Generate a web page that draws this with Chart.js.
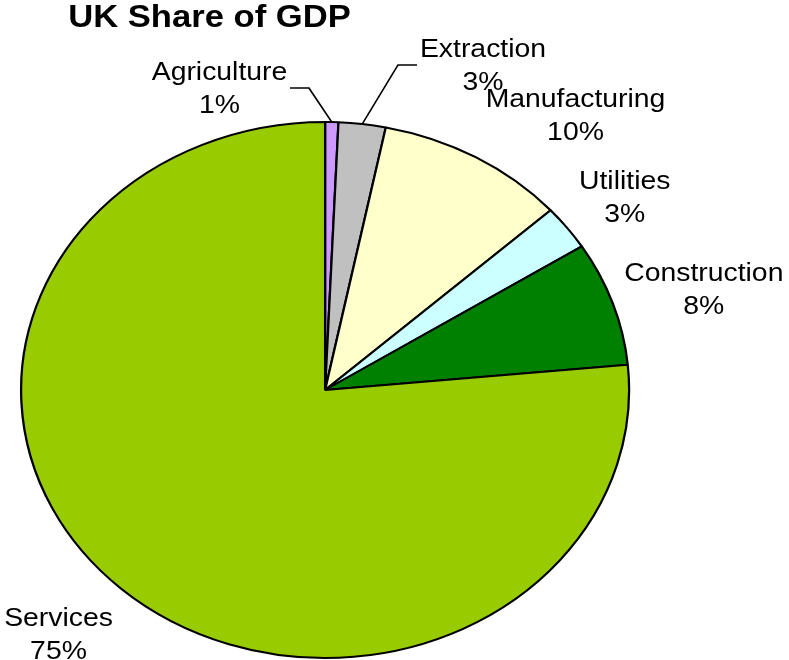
<!DOCTYPE html>
<html>
<head>
<meta charset="utf-8">
<title>UK Share of GDP</title>
<script src="https://cdn.jsdelivr.net/npm/chart.js@4/dist/chart.umd.min.js"></script>
<style>
    html, body { margin: 0; padding: 0; background: #fff; }
    #wrap { width: 789px; height: 660px; position: relative; }
</style>
</head>
<body>
<div id="wrap"><canvas id="gdp-chart"></canvas></div>
<script>
const sectors = ['Agriculture', 'Extraction', 'Manufacturing', 'Utilities', 'Construction', 'Services'];
const shares = [0.7, 2.5, 10.1, 2.7, 7.5, 76.5];
// percentages as printed on the original chart
const pctLabels = ['1%', '3%', '10%', '3%', '8%', '75%'];
const sliceColors = ['#CC99FF', '#C0C0C0', '#FFFFCC', '#CCFFFF', '#008000', '#99CC00'];

// the original picture is stretched sideways, so everything is drawn squeezed then scaled back out
const SX = 304 / 268;
const FONT = '"Liberation Sans", Arial, sans-serif';

// label placement in page pixels: text centre, first baseline, leader elbow / end where there is one
const labelPos = [
    { x: 219.5, y: 80, elbow: [309, 88], end: [290, 88] },
    { x: 483, y: 57, elbow: [398, 65], end: [417, 65] },
    { x: 575.5, y: 107 },
    { x: 624.7, y: 188.5 },
    { x: 703.8, y: 281 },
    { x: 58.5, y: 626 },
];

const stretch = {
    id: 'stretch',
    beforeDraw(chart) {
        chart.ctx.save();
        chart.ctx.scale(SX, 1);
    },
    afterDraw(chart) {
        const ctx = chart.ctx;
        const meta = chart.getDatasetMeta(0);
        ctx.fillStyle = '#000';
        ctx.strokeStyle = '#000';
        ctx.lineWidth = 1.5;
        ctx.textAlign = 'center';
        ctx.textBaseline = 'alphabetic';

        ctx.font = 'bold 30.5px ' + FONT;
        ctx.fillText('UK Share of GDP', 209.5 / SX, 27);

        ctx.font = '25px ' + FONT;
        meta.data.forEach((arc, i) => {
            const p = labelPos[i];
            if (p.elbow) {
                const mid = (arc.startAngle + arc.endAngle) / 2;
                const r = arc.outerRadius;
                ctx.beginPath();
                ctx.moveTo(arc.x + Math.cos(mid) * r, arc.y + Math.sin(mid) * r);
                ctx.lineTo(p.elbow[0] / SX, p.elbow[1]);
                ctx.lineTo(p.end[0] / SX, p.end[1]);
                ctx.stroke();
            }
            ctx.fillText(sectors[i], p.x / SX, p.y);
            ctx.fillText(pctLabels[i], p.x / SX, p.y + 33);
        });
        ctx.restore();
    },
};

new Chart(document.getElementById('gdp-chart'), {
    type: 'pie',
    data: {
        labels: sectors,
        datasets: [{
            data: shares,
            backgroundColor: sliceColors,
            borderColor: '#000',
            borderWidth: 2,
            hoverOffset: 0,
            radius: 268,
            clip: false,
        }],
    },
    options: {
        responsive: true, maintainAspectRatio: false, animation: false,
        events: [],
        layout: { padding: { left: 18.6, right: 234.4, top: 122, bottom: 2 } },
        plugins: { legend: { display: false }, title: { display: false }, tooltip: { enabled: false } },
    },
    plugins: [stretch],
});
</script>
</body>
</html>
